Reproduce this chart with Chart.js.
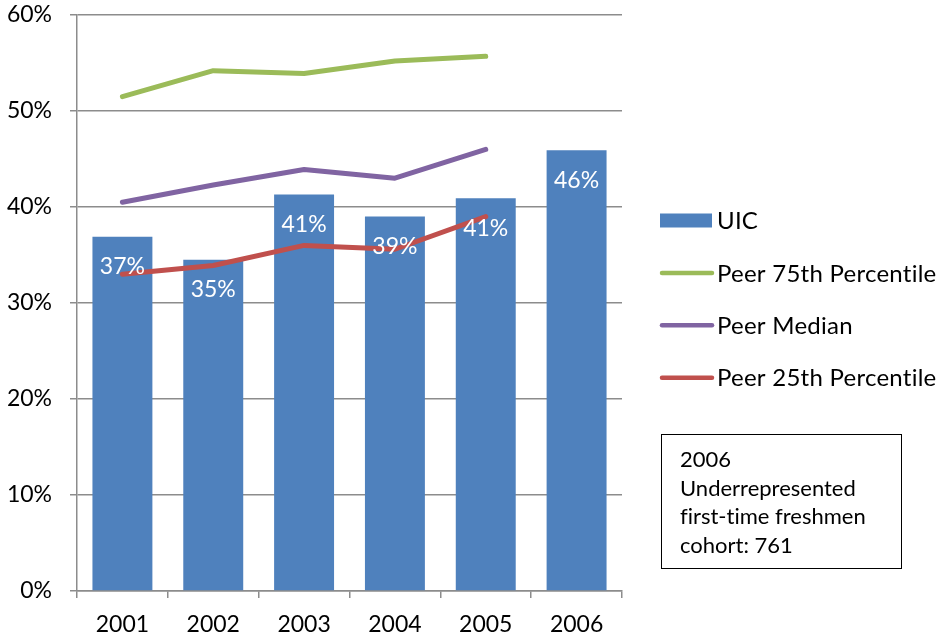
<!DOCTYPE html>
<html>
<head>
<meta charset="utf-8">
<script src="https://cdn.jsdelivr.net/npm/chart.js@4/dist/chart.umd.min.js"></script>
<style>
  html, body { margin: 0; padding: 0; background: #fff; }
  #wrap { position: relative; width: 944px; height: 640px; }
  canvas { display: block; }
  #note {
    position: absolute; left: 661px; top: 434px; width: 241px; height: 135px;
    border: 1.5px solid #000; box-sizing: border-box;
    font-family: Lato, sans-serif; font-size: 22px; line-height: 28.6px;
    font-variant-ligatures: none;
    color: #000; padding: 10px 0 0 18px;
  }
</style>
</head>
<body>
<div id="wrap">
  <canvas id="c" width="944" height="640"></canvas>
  <div id="note">2006<br>Underrepresented<br>first-time freshmen<br>cohort: 761</div>
</div>
<script>
const categories = ['2001', '2002', '2003', '2004', '2005', '2006'];
const uic = [36.9, 34.5, 41.3, 39.0, 40.9, 45.9];
const peer75 = [51.5, 54.2, 53.9, 55.2, 55.7, null];
const peerMedian = [40.5, 42.3, 43.9, 43.0, 46.0, null];
const peer25 = [33.0, 33.9, 36.0, 35.6, 39.0, null];
const yTicks = [0, 10, 20, 30, 40, 50, 60];

const FONT = 'Lato, sans-serif';
const GRID = '#8c8c8c';

const labelsPlugin = {
  id: 'barLabels',
  afterDatasetsDraw(chart) {
    const ctx = chart.ctx;
    const meta = chart.getDatasetMeta(0);
    ctx.save();
    ctx.fillStyle = '#ffffff';
    ctx.font = '23px ' + FONT;
    ctx.textAlign = 'center';
    ctx.textBaseline = 'middle';
    meta.data.forEach((bar, i) => {
      const v = chart.data.datasets[0].data[i];
      ctx.fillText(Math.round(v) + '%', bar.x, bar.y + 30);
    });
    ctx.restore();
  }
};

const legendPlugin = {
  id: 'customLegend',
  afterDraw(chart) {
    const ctx = chart.ctx;
    const x0 = 660, y0 = 220.5, step = 52.4;
    ctx.save();
    ctx.font = '24px ' + FONT;
    if ('letterSpacing' in ctx) ctx.letterSpacing = '0.25px';
    ctx.textBaseline = 'middle';
    ctx.textAlign = 'left';
    chart.data.datasets.forEach((ds, i) => {
      const y = y0 + i * step;
      if (ds.type === 'bar') {
        ctx.fillStyle = ds.backgroundColor;
        ctx.fillRect(x0, y - 7, 52, 14);
      } else {
        ctx.strokeStyle = ds.borderColor;
        ctx.lineWidth = 4.5;
        ctx.lineCap = 'round';
        ctx.beginPath();
        ctx.moveTo(x0 + 2, y);
        ctx.lineTo(x0 + 52, y);
        ctx.stroke();
      }
      ctx.fillStyle = '#000';
      ctx.fillText(ds.label, x0 + 57, y + 1);
    });
    ctx.restore();
  }
};

new Chart(document.getElementById('c'), {
  data: {
    labels: categories,
    datasets: [
      { type: 'bar', label: 'UIC', data: uic, backgroundColor: '#4F81BD',
        categoryPercentage: 1.0, barPercentage: 0.66, order: 4 },
      { type: 'line', label: 'Peer 75th Percentile', data: peer75, borderColor: '#9BBB59',
        borderWidth: 5, pointRadius: 0, borderCapStyle: 'round', borderJoinStyle: 'round', order: 3 },
      { type: 'line', label: 'Peer Median', data: peerMedian, borderColor: '#8064A2',
        borderWidth: 5, pointRadius: 0, borderCapStyle: 'round', borderJoinStyle: 'round', order: 2 },
      { type: 'line', label: 'Peer 25th Percentile', data: peer25, borderColor: '#C0504D',
        borderWidth: 5, pointRadius: 0, borderCapStyle: 'round', borderJoinStyle: 'round', order: 1 }
    ]
  },
  options: {
    responsive: false,
    animation: false,
    layout: { padding: { top: 15, right: 322, left: 0, bottom: 0 } },
    plugins: { legend: { display: false }, tooltip: { enabled: false } },
    scales: {
      x: {
        offset: true,
        grid: { display: true, offset: true, drawOnChartArea: false, drawTicks: true,
                tickLength: 7, color: GRID, lineWidth: 1.5 },
        border: { display: true, color: GRID, width: 1.5 },
        ticks: { font: { family: FONT, size: 23 }, color: '#000', padding: 13 },
        afterFit(scale) { scale.height = 49; scale.paddingLeft = 0; scale.paddingRight = 0; }
      },
      y: {
        min: 0, max: 60,
        afterBuildTicks(scale) { scale.ticks = yTicks.map(v => ({ value: v })); },
        grid: { color: GRID, lineWidth: 1.5, tickLength: 7, drawTicks: true },
        border: { display: true, color: GRID, width: 1.5 },
        ticks: { font: { family: FONT, size: 23 }, color: '#000', padding: 18,
                 callback: v => v + '%' },
        afterFit(scale) { scale.width = 77; scale.paddingTop = 0; scale.paddingBottom = 0; }
      }
    }
  },
  plugins: [labelsPlugin, legendPlugin]
});
</script>
</body>
</html>
